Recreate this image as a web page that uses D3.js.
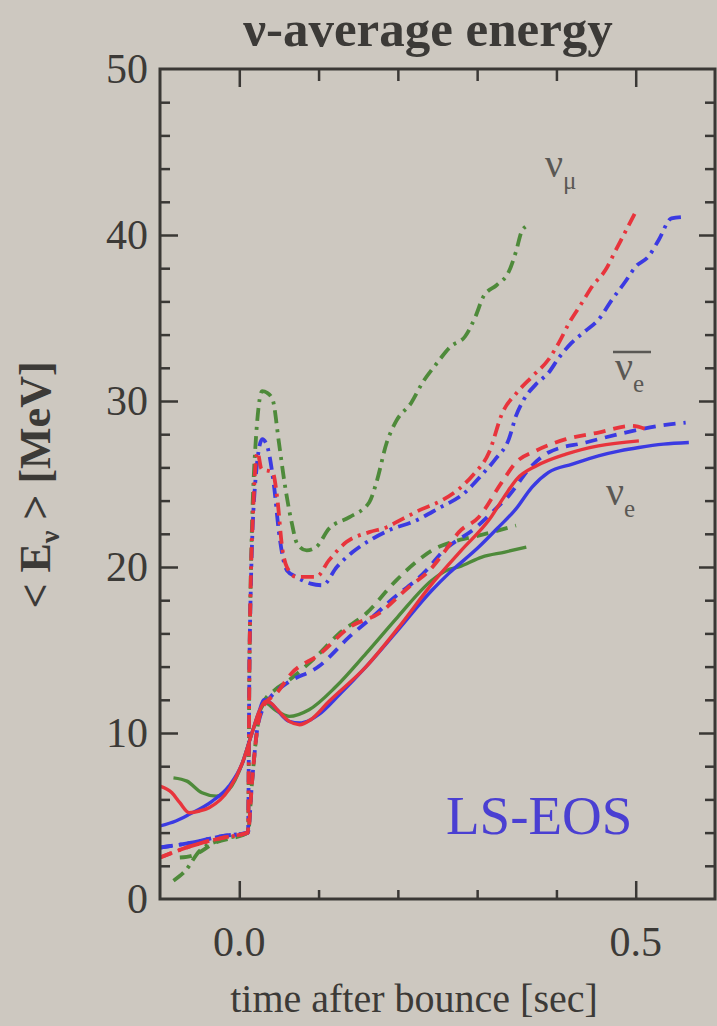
<!DOCTYPE html>
<html>
<head>
<meta charset="utf-8">
<script src="https://cdn.jsdelivr.net/npm/d3@7"></script>
<style>
  html, body { margin: 0; padding: 0; background: #cdc8c0; }
  svg { display: block; }
  text { font-family: "Liberation Serif", "DejaVu Serif", serif; }
</style>
</head>
<body>
<svg id="chart" width="717" height="1026"></svg>
<script>
// Mean neutrino energy [MeV] vs. time after bounce [s], three models (red, blue, green).
// Solid: nu_e, dashed: anti-nu_e, dash-dot: nu_mu.
const nueGreen = [[-0.083,7.3],[-0.066,7.1],[-0.047,6.4],[-0.029,6.2],[-0.013,6.6],[0.004,8.2],[0.016,10.0],[0.025,11.2],[0.033,11.8],[0.045,11.4],[0.063,11.0],[0.088,11.4],[0.122,12.8],[0.16,14.8],[0.20,17.0],[0.243,19.2],[0.262,19.8],[0.277,20.0],[0.306,20.6],[0.335,20.9],[0.362,21.2]];
const nueBlue = [[-0.1,4.4],[-0.08,4.7],[-0.063,5.1],[-0.034,5.9],[-0.013,6.8],[0.004,8.2],[0.016,10.0],[0.025,11.3],[0.031,12.0],[0.037,11.9],[0.044,11.6],[0.055,11.0],[0.063,10.7],[0.076,10.6],[0.09,10.8],[0.10,11.1],[0.126,12.3],[0.16,14.0],[0.20,16.2],[0.243,18.6],[0.264,19.6],[0.302,21.2],[0.327,22.4],[0.349,23.5],[0.369,24.8],[0.39,25.7],[0.42,26.2],[0.453,26.7],[0.48,27.0],[0.504,27.2],[0.535,27.4],[0.567,27.5]];
const nueRed = [[-0.1,6.8],[-0.085,6.4],[-0.075,5.8],[-0.063,5.2],[-0.05,5.3],[-0.038,5.5],[-0.013,6.6],[0.004,8.2],[0.016,10.0],[0.025,11.3],[0.033,11.9],[0.04,11.8],[0.048,11.4],[0.063,10.7],[0.076,10.5],[0.09,10.8],[0.113,11.9],[0.16,14.0],[0.20,16.3],[0.245,19.1],[0.28,21.0],[0.316,22.9],[0.335,24.3],[0.35,25.3],[0.375,26.1],[0.412,26.8],[0.453,27.3],[0.504,27.6]];

const anueGreen = [[-0.075,2.5],[-0.06,2.6],[-0.03,3.4],[0.011,4.0],[0.016,7.0],[0.022,10.0],[0.03,11.8],[0.045,12.6],[0.063,13.2],[0.097,14.6],[0.126,16.0],[0.16,17.2],[0.198,19.2],[0.223,20.3],[0.243,21.0],[0.268,21.5],[0.294,21.8],[0.319,22.1],[0.349,22.5]];
const anueBlue = [[-0.1,3.1],[-0.06,3.4],[-0.02,3.8],[0.011,4.0],[0.016,7.0],[0.022,10.0],[0.03,11.5],[0.04,12.2],[0.06,13.0],[0.1,14.0],[0.139,15.8],[0.173,17.2],[0.189,17.9],[0.236,19.8],[0.256,20.9],[0.299,22.4],[0.319,23.3],[0.34,24.3],[0.369,26.1],[0.39,26.9],[0.437,27.5],[0.487,28.1],[0.529,28.5],[0.563,28.7]];
const anueRed = [[-0.1,2.5],[-0.06,3.2],[-0.02,3.7],[0.011,4.0],[0.016,7.0],[0.022,10.0],[0.03,11.6],[0.047,12.4],[0.066,13.6],[0.1,14.7],[0.14,16.4],[0.176,17.2],[0.214,18.8],[0.24,19.8],[0.26,21.0],[0.277,22.1],[0.302,23.0],[0.331,25.1],[0.349,26.3],[0.374,27.0],[0.412,27.7],[0.453,28.1],[0.495,28.5],[0.513,28.3]];

const numuGreen = [[-0.083,1.1],[-0.068,1.7],[-0.05,2.9],[-0.02,3.6],[0.011,4.0],[0.013,15.0],[0.02,27.0],[0.029,30.6],[0.035,30.5],[0.042,30.1],[0.05,27.5],[0.057,25.1],[0.066,22.7],[0.073,21.4],[0.085,21.0],[0.097,21.2],[0.113,22.3],[0.139,23.0],[0.164,23.9],[0.173,25.1],[0.186,27.5],[0.198,28.8],[0.217,29.9],[0.231,31.1],[0.248,32.2],[0.267,33.3],[0.285,33.9],[0.298,35.1],[0.308,36.3],[0.325,37.0],[0.34,37.8],[0.349,39.0],[0.356,40.2],[0.361,40.5]];
const numuBlue = [[-0.1,3.1],[-0.06,3.4],[-0.02,3.8],[0.011,4.0],[0.013,15.0],[0.02,25.0],[0.029,27.7],[0.035,27.3],[0.044,24.8],[0.05,22.1],[0.06,19.8],[0.072,19.4],[0.09,19.0],[0.105,18.9],[0.123,20.0],[0.143,20.9],[0.168,21.7],[0.193,22.3],[0.218,22.7],[0.25,23.5],[0.285,24.5],[0.305,25.5],[0.323,26.5],[0.34,27.7],[0.349,29.1],[0.359,30.1],[0.374,31.0],[0.39,31.7],[0.403,32.6],[0.419,33.5],[0.436,34.2],[0.453,34.9],[0.47,36.1],[0.487,37.2],[0.5,38.1],[0.516,38.7],[0.529,39.7],[0.545,41.0],[0.563,41.1]];
const numuRed = [[-0.1,2.5],[-0.06,3.2],[-0.02,3.7],[0.011,4.0],[0.013,15.0],[0.018,24.0],[0.023,26.9],[0.028,25.9],[0.042,25.7],[0.048,24.1],[0.054,21.2],[0.06,20.0],[0.072,19.4],[0.097,19.4],[0.113,20.4],[0.135,21.5],[0.164,22.1],[0.186,22.4],[0.206,22.9],[0.231,23.5],[0.255,24.0],[0.277,24.7],[0.294,25.5],[0.315,26.9],[0.332,29.3],[0.35,30.5],[0.37,31.5],[0.39,32.5],[0.403,33.5],[0.416,34.7],[0.432,35.9],[0.445,36.9],[0.462,37.9],[0.475,39.1],[0.487,40.2],[0.5,41.4]];

const xMajorTicks = [0.0, 0.5];
const xMajorLabels = ["0.0", "0.5"];
const yMajorTicks = [0, 10, 20, 30, 40, 50];

const svg = d3.select("#chart");
const plotLeft = 160, plotRight = 715, plotTop = 69, plotBottom = 899;

const x = d3.scaleLinear().domain([-0.1, 0.6]).range([plotLeft, plotRight]);
const y = d3.scaleLinear().domain([0, 50]).range([plotBottom, plotTop]);

const colors = { red: "#e8343c", blue: "#3b3ae2", green: "#4e8a3a" };
const styles = { solid: null, dashed: "12,8", dashdot: "13,6,3,6" };

const series = [
  { data: numuGreen, color: colors.green, dash: styles.dashdot },
  { data: anueGreen, color: colors.green, dash: styles.dashed },
  { data: nueGreen,  color: colors.green, dash: styles.solid },
  { data: numuBlue,  color: colors.blue,  dash: styles.dashdot },
  { data: anueBlue,  color: colors.blue,  dash: styles.dashed },
  { data: nueBlue,   color: colors.blue,  dash: styles.solid },
  { data: numuRed,   color: colors.red,   dash: styles.dashdot },
  { data: anueRed,   color: colors.red,   dash: styles.dashed },
  { data: nueRed,    color: colors.red,   dash: styles.solid }
];

const line = d3.line()
  .x(d => x(d[0]))
  .y(d => y(d[1]))
  .curve(d3.curveMonotoneX);

svg.append("clipPath").attr("id", "plotClip")
  .append("rect").attr("x", plotLeft).attr("y", plotTop)
  .attr("width", plotRight - plotLeft).attr("height", plotBottom - plotTop);

const plot = svg.append("g").attr("clip-path", "url(#plotClip)");
plot.selectAll("path.curve")
  .data(series)
  .join("path")
  .attr("class", "curve")
  .attr("d", d => line(d.data))
  .attr("fill", "none")
  .attr("stroke", d => d.color)
  .attr("stroke-width", d => d.dash ? 3.8 : 3.4)
  .attr("stroke-dasharray", d => d.dash)
  .attr("stroke-linecap", "butt")
  .attr("stroke-linejoin", "round");

// Frame axes with inward ticks
const axisColor = "#3a3835";
function styleAxis(g) {
  g.select(".domain").remove();
  g.selectAll(".tick line").attr("stroke", axisColor).attr("stroke-width", 2.5);
  g.selectAll(".tick text").remove();
}
const xMinor = d3.range(-0.1, 0.6001, 0.1).map(v => +v.toFixed(2)).filter(v => v > -0.1 && v < 0.6 && !xMajorTicks.includes(v));
const yMinor = d3.range(2, 50, 2).filter(v => v % 10 !== 0);
const yInner = yMajorTicks.slice(1, -1);

// bottom
svg.append("g").attr("transform", `translate(0,${plotBottom})`)
  .call(d3.axisTop(x).tickValues(xMinor).tickSize(9)).call(styleAxis);
svg.append("g").attr("transform", `translate(0,${plotBottom})`)
  .call(d3.axisTop(x).tickValues(xMajorTicks).tickSize(18)).call(styleAxis);
// top
svg.append("g").attr("transform", `translate(0,${plotTop})`)
  .call(d3.axisBottom(x).tickValues(xMinor).tickSize(12)).call(styleAxis);
svg.append("g").attr("transform", `translate(0,${plotTop})`)
  .call(d3.axisBottom(x).tickValues(xMajorTicks).tickSize(18)).call(styleAxis);
// left
svg.append("g").attr("transform", `translate(${plotLeft},0)`)
  .call(d3.axisRight(y).tickValues(yMinor).tickSize(10)).call(styleAxis);
svg.append("g").attr("transform", `translate(${plotLeft},0)`)
  .call(d3.axisRight(y).tickValues(yInner).tickSize(18)).call(styleAxis);
// right
svg.append("g").attr("transform", `translate(${plotRight},0)`)
  .call(d3.axisLeft(y).tickValues(yMinor).tickSize(10)).call(styleAxis);
svg.append("g").attr("transform", `translate(${plotRight},0)`)
  .call(d3.axisLeft(y).tickValues(yInner).tickSize(16)).call(styleAxis);

svg.append("rect")
  .attr("x", plotLeft).attr("y", plotTop)
  .attr("width", plotRight - plotLeft).attr("height", plotBottom - plotTop)
  .attr("fill", "none").attr("stroke", axisColor).attr("stroke-width", 3);

// tick labels
const labelColor = "#3c3a37";
svg.append("g").selectAll("text")
  .data(yMajorTicks)
  .join("text")
  .attr("x", plotLeft - 12)
  .attr("y", d => y(d))
  .attr("dy", "0.34em")
  .attr("text-anchor", "end")
  .attr("font-size", 42)
  .attr("fill", labelColor)
  .text(d => d);

svg.append("g").selectAll("text")
  .data(xMajorTicks)
  .join("text")
  .attr("x", d => x(d))
  .attr("y", plotBottom + 57)
  .attr("text-anchor", "middle")
  .attr("font-size", 42)
  .attr("fill", labelColor)
  .text((d, i) => xMajorLabels[i]);

// titles
svg.append("text")
  .attr("x", 428).attr("y", 46)
  .attr("text-anchor", "middle")
  .attr("font-size", 51).attr("font-weight", "bold")
  .attr("fill", labelColor)
  .text("ν-average energy");

svg.append("text")
  .attr("x", 414).attr("y", 1012)
  .attr("text-anchor", "middle")
  .attr("font-size", 40)
  .attr("fill", labelColor)
  .text("time after bounce [sec]");

const yl = svg.append("text")
  .attr("transform", "translate(50,485) rotate(-90)")
  .attr("text-anchor", "middle")
  .attr("font-size", 44).attr("font-weight", "bold")
  .attr("fill", labelColor);
yl.append("tspan").text("< E");
yl.append("tspan").attr("font-size", 28).attr("dy", 9).text("ν");
yl.append("tspan").attr("dy", -9).text(" > [MeV]");

// curve family labels
const nuColor = "#5a5854";
function nuLabel(xp, yp, sub, bar) {
  const t = svg.append("text").attr("x", xp).attr("y", yp).attr("font-size", 40).attr("fill", nuColor);
  t.append("tspan").text("ν");
  t.append("tspan").attr("font-size", 25).attr("dy", 12).text(sub);
  if (bar) {
    svg.append("line").attr("x1", xp - 2).attr("x2", xp + 36).attr("y1", yp - 28).attr("y2", yp - 28)
      .attr("stroke", nuColor).attr("stroke-width", 2.5);
  }
}
nuLabel(545, 177, "μ", false);
nuLabel(615, 380, "e", true);
nuLabel(606, 505, "e", false);

svg.append("text")
  .attr("x", 446).attr("y", 834)
  .attr("font-size", 55)
  .attr("fill", "#4a3fd2")
  .text("LS-EOS");
</script>
</body>
</html>
